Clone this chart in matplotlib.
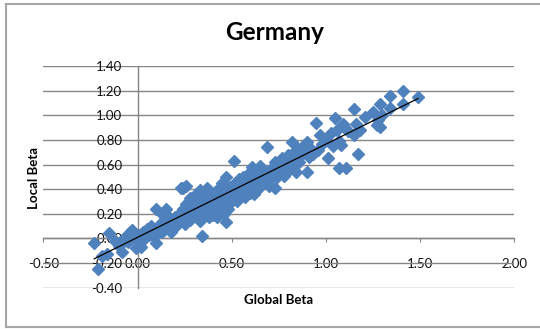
import matplotlib
matplotlib.use("Agg")
import matplotlib.pyplot as plt
import numpy as np
from matplotlib.lines import Line2D

# global beta vs local beta
global_beta = [
    -0.23, -0.21, -0.19, -0.16, -0.15, -0.12, -0.10, -0.08, -0.07, -0.05, -0.04, -0.03, -0.02, -0.01, 0.00,
    0.01, 0.02, 0.03, 0.04, 0.05, 0.06, 0.07, 0.08, 0.09, 0.10, 0.10, 0.11, 0.12, 0.13, 0.13,
    0.14, 0.15, 0.15, 0.16, 0.17, 0.18, 0.18, 0.19, 0.20, 0.20,
    0.21, 0.22, 0.23, 0.23, 0.24, 0.24, 0.25, 0.25, 0.26, 0.26, 0.27, 0.28, 0.28, 0.29, 0.30, 0.30,
    0.31, 0.32, 0.32, 0.33, 0.33, 0.34, 0.34, 0.35, 0.35, 0.36, 0.36, 0.37, 0.37, 0.38, 0.38,
    0.39, 0.39, 0.40, 0.40,
    0.41, 0.42, 0.42, 0.43, 0.43, 0.44, 0.45, 0.45, 0.46, 0.46, 0.47, 0.47, 0.47, 0.48, 0.48,
    0.49, 0.49, 0.50, 0.51, 0.51, 0.52, 0.53, 0.53, 0.54, 0.55, 0.55, 0.56, 0.57, 0.57, 0.58,
    0.59, 0.59, 0.60, 0.60,
    0.61, 0.61, 0.62, 0.62, 0.63, 0.64, 0.64, 0.65, 0.65, 0.66, 0.67, 0.67, 0.68, 0.69, 0.69,
    0.70, 0.70, 0.71, 0.72, 0.72, 0.73, 0.73, 0.74, 0.75, 0.76, 0.76, 0.77, 0.78, 0.78, 0.79,
    0.80, 0.80,
    0.81, 0.82, 0.82, 0.83, 0.84, 0.84, 0.85, 0.86, 0.87, 0.88, 0.89, 0.90, 0.90, 0.91, 0.92,
    0.93, 0.95, 0.96, 0.97, 0.98, 1.00, 1.01,
    1.03, 1.04, 1.05, 1.06, 1.07, 1.07, 1.08, 1.09, 1.10, 1.11, 1.12, 1.15, 1.15, 1.16, 1.17,
    1.18, 1.21, 1.25, 1.27, 1.28, 1.29, 1.29, 1.30, 1.34, 1.34, 1.41, 1.41, 1.49,
]
local_beta = [
    -0.04, -0.25, -0.14, -0.13, 0.04, -0.02, -0.06, -0.11, 0.00, -0.03, 0.05, 0.07, 0.02, -0.08, 0.03,
    -0.02, -0.07, 0.05, 0.00, 0.08, 0.03, 0.10, 0.04, 0.01, -0.04, 0.24, 0.07, 0.12, 0.20, 0.05,
    0.09, 0.24, 0.14, 0.18, 0.08, 0.15, 0.05, 0.11, 0.17, 0.09,
    0.13, 0.20, 0.16, 0.41, 0.24, 0.41, 0.12, 0.19, 0.43, 0.28, 0.22, 0.15, 0.33, 0.25, 0.18, 0.30,
    0.36, 0.21, 0.27, 0.14, 0.39, 0.02, 0.24, 0.31, 0.18, 0.35, 0.27, 0.41, 0.22, 0.17, 0.30,
    0.37, 0.25, 0.33, 0.19,
    0.28, 0.36, 0.17, 0.40, 0.31, 0.25, 0.38, 0.45, 0.30, 0.20, 0.13, 0.24, 0.50, 0.35, 0.24,
    0.42, 0.29, 0.38, 0.63, 0.33, 0.45, 0.40, 0.30, 0.48, 0.36, 0.43, 0.50, 0.39, 0.34, 0.45,
    0.41, 0.53, 0.37, 0.46,
    0.58, 0.42, 0.50, 0.36, 0.45, 0.54, 0.40, 0.48, 0.59, 0.44, 0.52, 0.56, 0.47, 0.74, 0.51,
    0.43, 0.55, 0.49, 0.58, 0.52, 0.41, 0.62, 0.50, 0.56, 0.60, 0.53, 0.65, 0.58, 0.51, 0.62,
    0.55, 0.68,
    0.60, 0.78, 0.64, 0.70, 0.54, 0.66, 0.73, 0.62, 0.68, 0.75, 0.71, 0.54, 0.78, 0.66, 0.73,
    0.69, 0.94, 0.72, 0.84, 0.77, 0.80, 0.65,
    0.86, 0.75, 0.98, 0.88, 0.57, 0.79, 0.76, 0.93, 0.90, 0.57, 0.87, 1.05, 0.84, 0.93, 0.69,
    0.88, 0.99, 1.03, 0.92, 0.96, 1.09, 0.91, 1.00, 1.16, 1.06, 1.20, 1.09, 1.15,
]

x_ticks = [-0.5, 0.0, 0.5, 1.0, 1.5, 2.0]
y_ticks = [-0.4, -0.2, 0.0, 0.2, 0.4, 0.6, 0.8, 1.0, 1.2, 1.4]

FONT = "Lato"
BLUE = "#4F81BD"
GRAY = "#868686"

fig = plt.figure(figsize=(5.4, 3.29), dpi=100)
ax = fig.add_axes([0.0804, 0.1261, 0.8715, 0.6724])

x = np.array(global_beta)
y = np.array(local_beta)
ax.plot(x, y, linestyle="none", marker="D", markersize=6,
        color=BLUE, markeredgecolor=BLUE, zorder=3)

# linear trendline
slope, icpt = np.polyfit(x, y, 1)
xs = np.array([x.min(), x.max()])
ax.plot(xs, slope * xs + icpt, color="black", lw=0.9, zorder=4)

ax.set_xlim(-0.5, 2.0)
ax.set_ylim(-0.4, 1.4)
ax.set_xticks(x_ticks)
ax.set_yticks(y_ticks)
ax.set_xticklabels([f"{v:.2f}" for v in x_ticks])
ax.set_yticklabels([f"{v:.2f}" for v in y_ticks])

for side in ["top", "right"]:
    ax.spines[side].set_visible(False)
ax.spines["left"].set_position(("data", 0))
ax.spines["bottom"].set_position(("data", 0))
for side in ["left", "bottom"]:
    ax.spines[side].set_color(GRAY)
    ax.spines[side].set_linewidth(1.0)

ax.set_axisbelow(True)
ax.yaxis.grid(True, color=GRAY, lw=1.0)
ax.tick_params(axis="y", length=0, pad=11, labelsize=9.5, labelcolor="#111111")
ax.tick_params(axis="x", direction="out", length=3, color=GRAY, pad=11,
               labelsize=9.5, labelcolor="#111111")
for lab in ax.get_xticklabels() + ax.get_yticklabels():
    lab.set_fontfamily(FONT)

fig.text(274.5 / 540, 1 - 32 / 329, "Germany", ha="center", va="center",
         fontsize=17.5, fontweight="bold", family=FONT)
fig.text(279 / 540, 1 - 300 / 329, "Global Beta", ha="center", va="center",
         fontsize=9.5, fontweight="bold", family=FONT)
fig.text(34.4 / 540, 1 - 178 / 329, "Local Beta", ha="center", va="center",
         rotation=90, fontsize=9.5, fontweight="bold", family=FONT)

# chart border
bc = "#A6A6A6"
fig.add_artist(Line2D([6 / 540, 6 / 540], [2 / 329, 1 - 4 / 329], color=bc, lw=1.5))
fig.add_artist(Line2D([6 / 540, 1.0], [1 - 4 / 329, 1 - 4 / 329], color=bc, lw=1.5))
fig.add_artist(Line2D([6 / 540, 1.0], [2 / 329, 2 / 329], color=bc, lw=1.5))

fig.savefig("out.png", dpi=100)
